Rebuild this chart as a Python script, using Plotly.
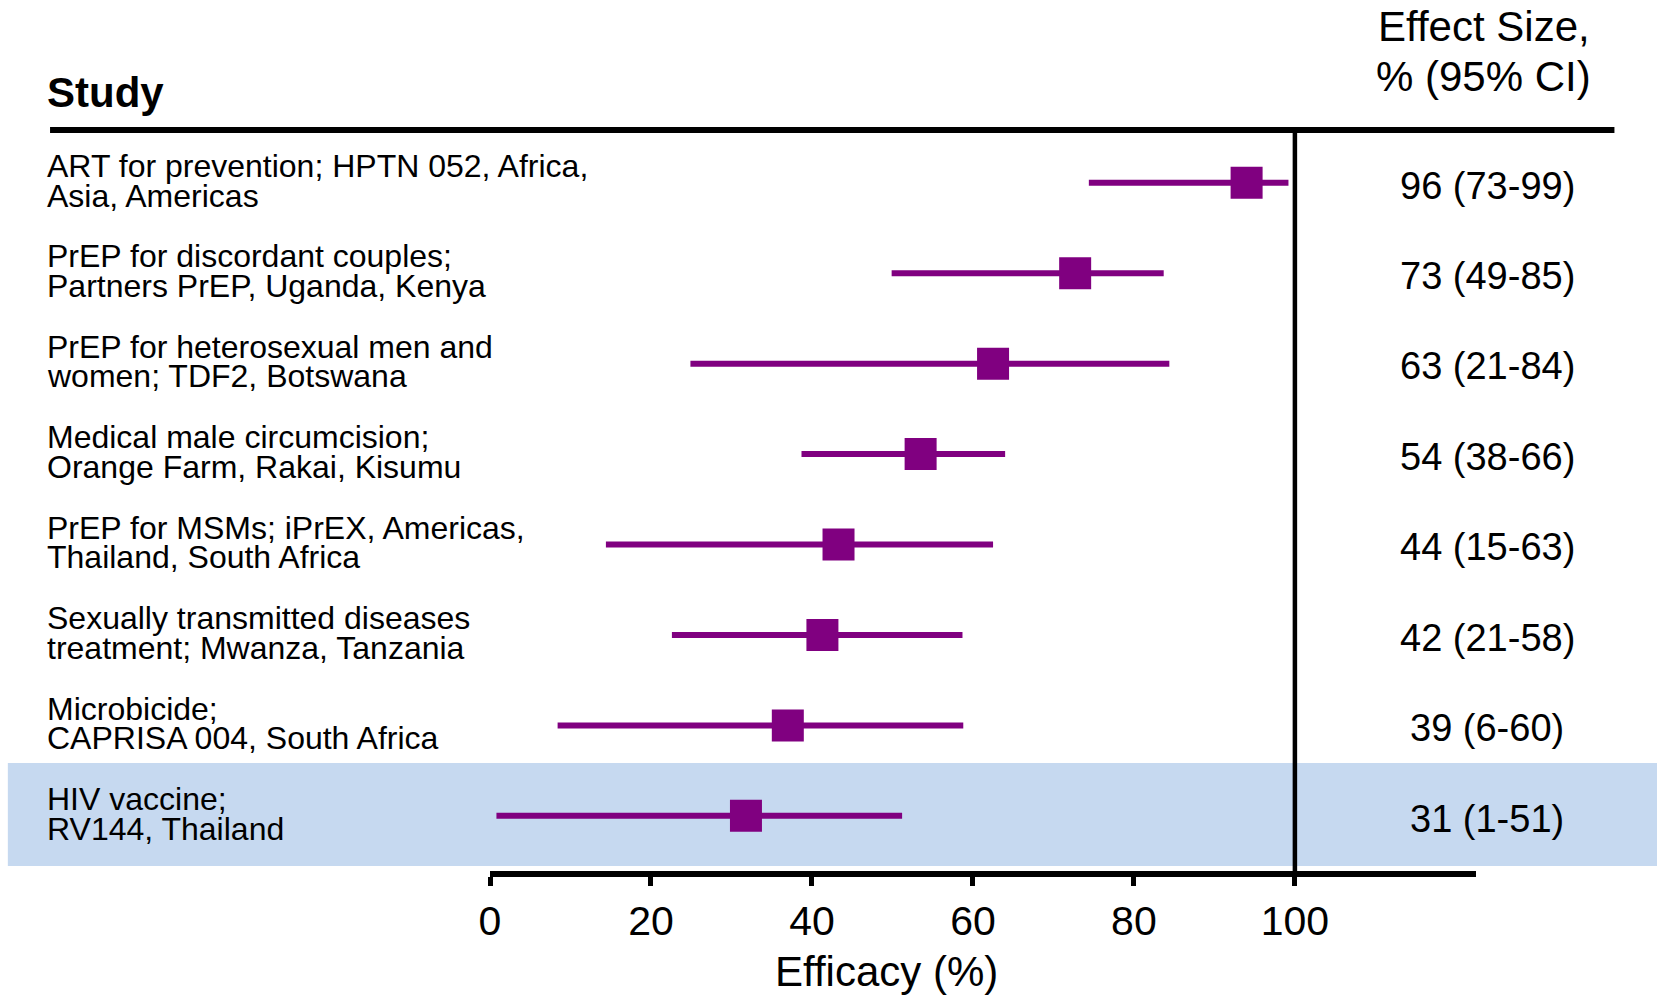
import plotly.graph_objects as go

# ---------------- data ----------------
studies_line1 = [
    "ART for prevention; HPTN 052, Africa,",
    "PrEP for discordant couples;",
    "PrEP for heterosexual men and",
    "Medical male circumcision;",
    "PrEP for MSMs; iPrEX, Americas,",
    "Sexually transmitted diseases",
    "Microbicide;",
    "HIV vaccine;",
]
studies_line2 = [
    "Asia, Americas",
    "Partners PrEP, Uganda, Kenya",
    "women; TDF2, Botswana",
    "Orange Farm, Rakai, Kisumu",
    "Thailand, South Africa",
    "treatment; Mwanza, Tanzania",
    "CAPRISA 004, South Africa",
    "RV144, Thailand",
]
effect_labels = [
    "96 (73-99)", "73 (49-85)", "63 (21-84)", "54 (38-66)",
    "44 (15-63)", "42 (21-58)", "39 (6-60)", "31 (1-51)",
]
# values as drawn in the picture
estimate = [94.0, 72.7, 62.5, 53.5, 43.3, 41.3, 37.0, 31.8]
ci_low = [74.4, 49.9, 24.9, 38.7, 14.4, 22.6, 8.4, 0.8]
ci_high = [99.2, 83.7, 84.4, 64.0, 62.5, 58.7, 58.8, 51.2]
x_ticks = [0, 20, 40, 60, 80, 100]
highlight_row = 7  # HIV vaccine

# ---------------- layout constants ----------------
FONT = "Liberation Sans, Arial, Helvetica, sans-serif"
PURPLE = "#800080"
BAND = "#C6D9F0"
n = len(estimate)
ypos = [n - i for i in range(n)]

fig = go.Figure()
fig.add_trace(go.Scatter(
    x=estimate, y=ypos, mode="markers",
    marker=dict(symbol="square", size=32, color=PURPLE, line=dict(width=0)),
    error_x=dict(type="data", symmetric=False,
                 array=[h - e for h, e in zip(ci_high, estimate)],
                 arrayminus=[e - l for e, l in zip(estimate, ci_low)],
                 thickness=6, width=0, color=PURPLE),
    showlegend=False, hoverinfo="skip", cliponaxis=False,
))

annotations = []
LBL_X = -0.4510
VAL_X = 1.0112
for i in range(n):
    annotations.append(dict(x=LBL_X, xref="paper", y=ypos[i], yref="y",
                            text=studies_line1[i], showarrow=False,
                            xanchor="left", yanchor="middle", yshift=16.8,
                            font=dict(family=FONT, size=32, color="black")))
    annotations.append(dict(x=LBL_X, xref="paper", y=ypos[i], yref="y",
                            text=studies_line2[i], showarrow=False,
                            xanchor="left", yanchor="middle", yshift=-12.7,
                            font=dict(family=FONT, size=32, color="black")))
    annotations.append(dict(x=VAL_X, xref="paper", y=ypos[i], yref="y",
                            text=effect_labels[i], showarrow=False,
                            xanchor="center", yanchor="middle", yshift=-2.7,
                            font=dict(family=FONT, size=38, color="black")))

# headers
annotations.append(dict(x=LBL_X, xref="paper", y=1, yref="paper",
                        text="<b>Study</b>", showarrow=False,
                        xanchor="left", yanchor="middle", yshift=38,
                        font=dict(family=FONT, size=42, color="black")))
annotations.append(dict(x=1.008, xref="paper", y=1, yref="paper",
                        text="Effect Size,", showarrow=False,
                        xanchor="center", yanchor="middle", yshift=104,
                        font=dict(family=FONT, size=42, color="black")))
annotations.append(dict(x=1.008, xref="paper", y=1, yref="paper",
                        text="% (95% CI)", showarrow=False,
                        xanchor="center", yanchor="middle", yshift=54,
                        font=dict(family=FONT, size=42, color="black")))
# x axis title
annotations.append(dict(x=49.2, xref="x", y=0, yref="paper",
                        text="Efficacy (%)", showarrow=False,
                        xanchor="center", yanchor="middle", yshift=-100.7,
                        font=dict(family=FONT, size=42, color="black")))

hr = ypos[highlight_row]
shapes = [
    # highlighted row band
    dict(type="rect", xref="paper", yref="y", x0=-0.489, x1=1.19,
         y0=hr - 0.555, y1=hr + 0.584, fillcolor=BAND, line=dict(width=0),
         layer="below"),
    # header rule
    dict(type="line", xref="paper", yref="paper", x0=-0.4462, x1=1.1404,
         y0=1, y1=1, line=dict(color="black", width=6)),
    # reference line at 100 %
    dict(type="line", xref="x", yref="paper", x0=100, x1=100, y0=0, y1=1,
         line=dict(color="black", width=4.5), layer="above"),
]

fig.update_layout(
    width=1657, height=996,
    margin=dict(l=490, r=181, t=130, b=125, pad=0),
    paper_bgcolor="white", plot_bgcolor="rgba(0,0,0,0)",
    xaxis=dict(range=[0, 122.5], tickvals=x_ticks, ticktext=[str(t) for t in x_ticks],
               showline=True, linewidth=6, linecolor="black",
               ticks="outside", ticklen=9, tickwidth=4.5, tickcolor="black",
               tickfont=dict(family=FONT, size=41, color="black"),
               showgrid=False, zeroline=False, fixedrange=True),
    yaxis=dict(range=[0.39, 8.584], visible=False, showgrid=False,
               zeroline=False, fixedrange=True),
    annotations=annotations, shapes=shapes,
    font=dict(family=FONT, color="black"),
)

fig.write_html("out.html")
